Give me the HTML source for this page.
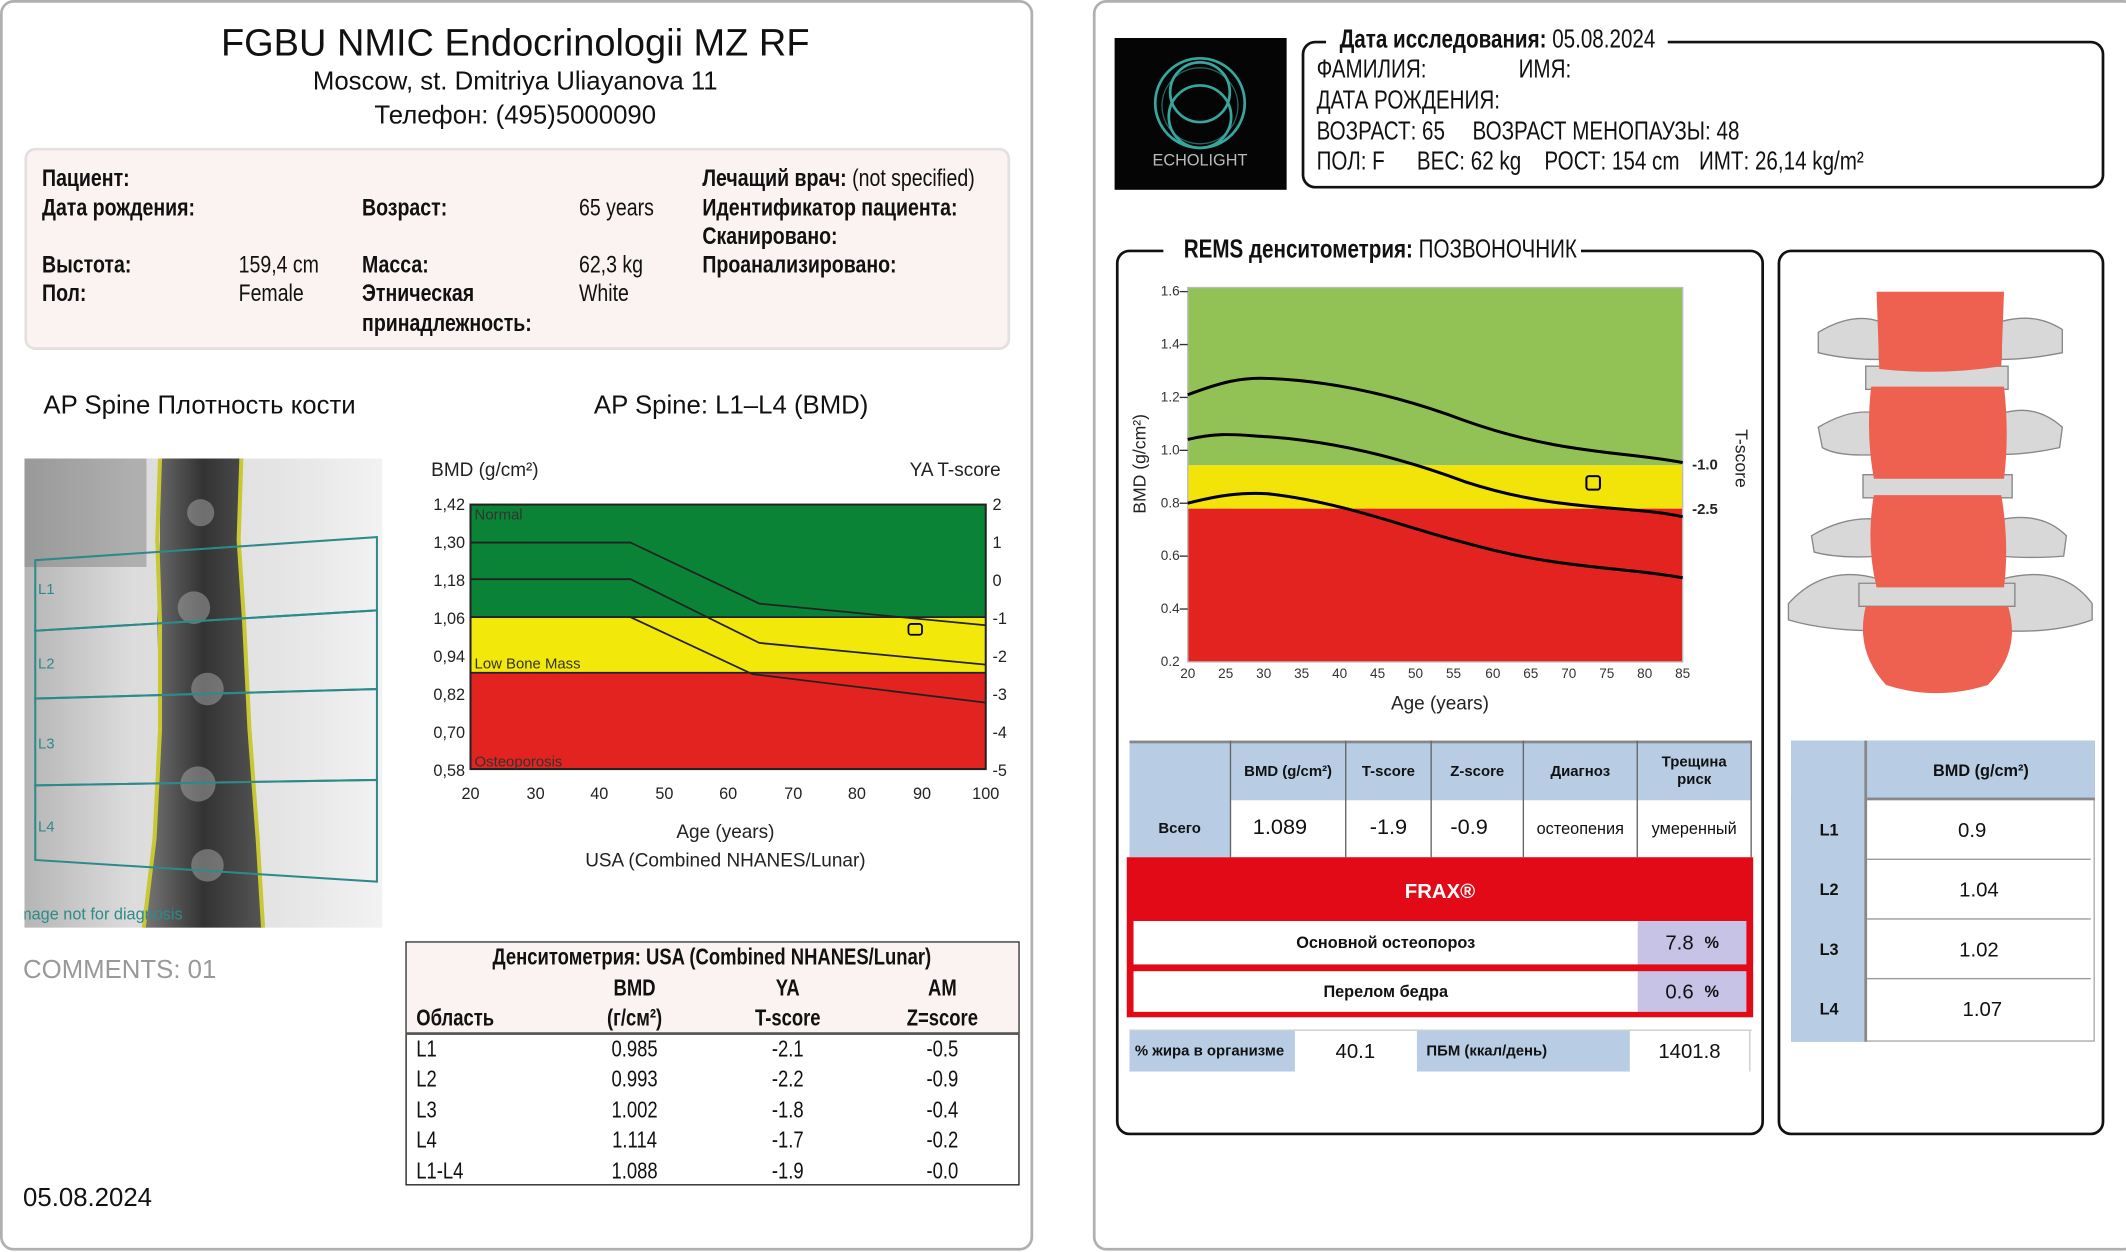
<!DOCTYPE html>
<html><head><meta charset="utf-8">
<style>
*{margin:0;padding:0;box-sizing:border-box}
html,body{width:2126px;height:1252px;overflow:hidden;background:#fff}
#w{position:absolute;left:0;top:0;width:1568px;height:923px;transform:scale(1.3559,1.3564);transform-origin:0 0;font-family:"Liberation Sans",sans-serif;color:#111}
.a{position:absolute;white-space:nowrap;line-height:1}
.b{font-weight:bold}
.panel{position:absolute;border:2px solid #b0b0b0;border-radius:10px}
.box{position:absolute;border:2px solid #111;border-radius:10px}
.c{transform:translateX(-50%)}
.n .a{transform:scaleX(.8);transform-origin:0 0}
.n .a.c{transform:translateX(-50%) scaleX(.8);transform-origin:50% 0}
.cell{position:absolute;display:flex;align-items:center;justify-content:center;font-family:"Liberation Sans",sans-serif;font-size:12px}
</style></head><body><div id="w">

<div class="panel" style="left:0;top:0;width:762px;height:922px"></div>
<div class="panel" style="left:806px;top:0;width:770px;height:922px"></div>

<!-- LEFT -->
<div class="a c" style="left:380px;top:18px;font-size:28px">FGBU NMIC Endocrinologii MZ RF</div>
<div class="a c" style="left:380px;top:51px;font-size:19px">Moscow, st. Dmitriya Uliayanova 11</div>
<div class="a c" style="left:380px;top:76px;font-size:19px">Телефон: (495)5000090</div>

<div style="position:absolute;left:18px;top:109px;width:727px;height:149px;background:#fbf3f1;border:2px solid #e4e0df;border-radius:8px"></div>
<div class="n" style="position:absolute;left:0;top:0;font-size:18px">
<div class="a b" style="left:31px;top:122px">Пациент:</div>
<div class="a b" style="left:31px;top:144px">Дата рождения:</div>
<div class="a b" style="left:31px;top:186px">Выстота:</div>
<div class="a b" style="left:31px;top:207px">Пол:</div>
<div class="a" style="left:176px;top:186px">159,4 cm</div>
<div class="a" style="left:176px;top:207px">Female</div>
<div class="a b" style="left:267px;top:144px">Возраст:</div>
<div class="a b" style="left:267px;top:186px">Масса:</div>
<div class="a b" style="left:267px;top:207px">Этническая</div>
<div class="a b" style="left:267px;top:229px">принадлежность:</div>
<div class="a" style="left:427px;top:144px">65 years</div>
<div class="a" style="left:427px;top:186px">62,3 kg</div>
<div class="a" style="left:427px;top:207px">White</div>
<div class="a" style="left:518px;top:122px"><b>Лечащий врач:</b> (not specified)</div>
<div class="a b" style="left:518px;top:144px">Идентификатор пациента:</div>
<div class="a b" style="left:518px;top:165px">Сканировано:</div>
<div class="a b" style="left:518px;top:186px">Проанализировано:</div>
</div>

<div class="a" style="left:32px;top:290px;font-size:19px">AP Spine Плотность кости</div>
<div class="a" style="left:438px;top:290px;font-size:19px">AP Spine: L1–L4 (BMD)</div>

<!-- spine image -->
<svg style="position:absolute;left:18px;top:338px" width="264" height="346" viewBox="0 0 264 346">
<defs>
<linearGradient id="bg" x1="0" x2="1" y1="0" y2="0">
<stop offset="0" stop-color="#b5b5b5"/><stop offset="0.3" stop-color="#dcdcdc"/><stop offset="0.7" stop-color="#e4e4e4"/><stop offset="1" stop-color="#f2f2f2"/></linearGradient>
<linearGradient id="sp" x1="0" x2="1"><stop offset="0" stop-color="#777"/><stop offset="0.5" stop-color="#333"/><stop offset="1" stop-color="#555"/></linearGradient>
</defs>
<rect width="264" height="346" fill="url(#bg)"/>
<rect x="0" y="0" width="90" height="80" fill="#777" opacity="0.45"/>
<path d="M100 0 L160 0 L158 60 L162 120 L166 200 L172 280 L176 346 L88 346 L96 280 L100 200 L98 120 L100 60 Z" fill="url(#sp)"/>
<g fill="#aaa" opacity="0.5"><circle cx="130" cy="40" r="10"/><circle cx="125" cy="110" r="12"/><circle cx="135" cy="170" r="12"/><circle cx="128" cy="240" r="13"/><circle cx="135" cy="300" r="12"/></g>
<path d="M100 0 L98 60 L100 120 L100 200 L96 280 L88 346 M160 0 L158 60 L162 120 L166 200 L172 280 L176 346" fill="none" stroke="#c8c832" stroke-width="3"/>
<g fill="none" stroke="#2e8a8a" stroke-width="1.5">
<path d="M8 75 L260 58 L260 112 L8 127 Z"/>
<path d="M8 127 L260 112 L260 170 L8 177 Z"/>
<path d="M8 177 L260 170 L260 237 L8 241 Z"/>
<path d="M8 241 L260 237 L260 312 L8 296 Z"/>
</g>
<g fill="#2e8a8a" font-size="11" font-family="Liberation Sans"><text x="10" y="100">L1</text><text x="10" y="155">L2</text><text x="10" y="214">L3</text><text x="10" y="275">L4</text><text x="-8" y="340" font-size="12">Image not for diagnosis</text></g>
</svg>

<!-- left chart -->
<svg style="position:absolute;left:300px;top:330px" width="460" height="320" viewBox="300 330 460 320" font-family="Liberation Sans, sans-serif">
<rect x="347" y="372" width="380" height="83" fill="#0a8337"/>
<rect x="347" y="455" width="380" height="41" fill="#f2e80a"/>
<rect x="347" y="496" width="380" height="71" fill="#e3231f"/>
<rect x="347" y="372" width="380" height="195" fill="none" stroke="#222" stroke-width="1.5"/>
<g stroke="#222" stroke-width="1.3" fill="none">
<line x1="347" y1="455" x2="727" y2="455"/><line x1="347" y1="496" x2="727" y2="496"/>
<polyline points="347,400 465,400 560,445 727,461"/>
<polyline points="347,427 465,427 560,474 727,490"/>
<polyline points="347,455 465,455 555,497 727,518"/>
<rect x="670" y="460" width="10" height="8" rx="2" fill="none" stroke="#000"/>
</g>
<g font-size="12" fill="#222" text-anchor="end">
<text x="343" y="376">1,42</text><text x="343" y="404">1,30</text><text x="343" y="432">1,18</text><text x="343" y="460">1,06</text><text x="343" y="488">0,94</text><text x="343" y="516">0,82</text><text x="343" y="544">0,70</text><text x="343" y="572">0,58</text></g>
<g font-size="12" fill="#222"><text x="732" y="376">2</text><text x="732" y="404">1</text><text x="732" y="432">0</text><text x="732" y="460">-1</text><text x="732" y="488">-2</text><text x="732" y="516">-3</text><text x="732" y="544">-4</text><text x="732" y="572">-5</text></g>
<g font-size="12" fill="#222" text-anchor="middle"><text x="347" y="589">20</text><text x="395" y="589">30</text><text x="442" y="589">40</text><text x="490" y="589">50</text><text x="537" y="589">60</text><text x="585" y="589">70</text><text x="632" y="589">80</text><text x="680" y="589">90</text><text x="727" y="589">100</text>
<text x="535" y="618" font-size="14">Age (years)</text><text x="535" y="639" font-size="14">USA (Combined NHANES/Lunar)</text></g>
<g font-size="11" fill="#333"><text x="350" y="383">Normal</text><text x="350" y="493">Low Bone Mass</text><text x="350" y="565">Osteoporosis</text></g>
<text x="318" y="351" font-size="14" fill="#222">BMD (g/cm²)</text>
<text x="738" y="351" font-size="14" fill="#222" text-anchor="end">YA T-score</text>
</svg>

<div class="a" style="left:17px;top:706px;font-size:19px;color:#999">COMMENTS: 01</div>
<div class="a" style="left:17px;top:874px;font-size:19px">05.08.2024</div>

<!-- left table -->
<div style="position:absolute;left:299px;top:694px;width:453px;height:180px;border:1.5px solid #222"></div>
<div style="position:absolute;left:300px;top:695px;width:451px;height:68px;background:#fbf3f1;border-bottom:2px solid #555"></div>
<div class="n" style="position:absolute;left:0;top:0;font-size:17px">
<div class="a b c" style="left:525px;top:697px">Денситометрия: USA (Combined NHANES/Lunar)</div>
<div class="a b c" style="left:468px;top:720px">BMD</div><div class="a b c" style="left:581px;top:720px">YA</div><div class="a b c" style="left:695px;top:720px">AM</div>
<div class="a b" style="left:307px;top:742px">Область</div>
<div class="a b c" style="left:468px;top:742px">(г/см²)</div><div class="a b c" style="left:581px;top:742px">T-score</div><div class="a b c" style="left:695px;top:742px">Z=score</div>
<div class="a" style="left:307px;top:765px">L1</div><div class="a c" style="left:468px;top:765px">0.985</div><div class="a c" style="left:581px;top:765px">-2.1</div><div class="a c" style="left:695px;top:765px">-0.5</div>
<div class="a" style="left:307px;top:787px">L2</div><div class="a c" style="left:468px;top:787px">0.993</div><div class="a c" style="left:581px;top:787px">-2.2</div><div class="a c" style="left:695px;top:787px">-0.9</div>
<div class="a" style="left:307px;top:810px">L3</div><div class="a c" style="left:468px;top:810px">1.002</div><div class="a c" style="left:581px;top:810px">-1.8</div><div class="a c" style="left:695px;top:810px">-0.4</div>
<div class="a" style="left:307px;top:832px">L4</div><div class="a c" style="left:468px;top:832px">1.114</div><div class="a c" style="left:581px;top:832px">-1.7</div><div class="a c" style="left:695px;top:832px">-0.2</div>
<div class="a" style="left:307px;top:855px">L1-L4</div><div class="a c" style="left:468px;top:855px">1.088</div><div class="a c" style="left:581px;top:855px">-1.9</div><div class="a c" style="left:695px;top:855px">-0.0</div>
</div>

<!-- RIGHT -->
<svg style="position:absolute;left:822px;top:28px" width="127" height="112" viewBox="0 0 127 112">
<rect width="127" height="112" fill="#050505"/>
<g fill="none" stroke="#3fb7b0" stroke-width="2" opacity="0.9">
<circle cx="63" cy="48" r="33"/><circle cx="63" cy="58" r="23"/><circle cx="63" cy="40" r="22"/><circle cx="63" cy="50" r="28" stroke-width="1" opacity="0.6"/>
</g>
<text x="63" y="94" fill="#bbb" font-size="12" text-anchor="middle" font-family="Liberation Sans">ECHOLIGHT</text>
</svg>

<div class="box" style="left:960px;top:30px;width:592px;height:109px"></div>
<div style="position:absolute;left:978px;top:20px;width:252px;height:16px;background:#fff"></div>
<div class="n" style="position:absolute;left:0;top:0;font-size:19px">
<div class="a" style="left:988px;top:20px"><b>Дата исследования:</b> 05.08.2024</div>
<div class="a" style="left:971px;top:42px">ФАМИЛИЯ:</div><div class="a" style="left:1120px;top:42px">ИМЯ:</div>
<div class="a" style="left:971px;top:65px">ДАТА РОЖДЕНИЯ:</div>
<div class="a" style="left:971px;top:88px">ВОЗРАСТ: 65</div><div class="a" style="left:1086px;top:88px">ВОЗРАСТ МЕНОПАУЗЫ: 48</div>
<div class="a" style="left:971px;top:110px">ПОЛ: F</div><div class="a" style="left:1045px;top:110px">ВЕС: 62 kg</div><div class="a" style="left:1139px;top:110px">РОСТ: 154 cm</div><div class="a" style="left:1253px;top:110px">ИМТ: 26,14 kg/m²</div>
</div>

<div class="box" style="left:823px;top:184px;width:478px;height:653px"></div>
<div style="position:absolute;left:858px;top:175px;width:308px;height:18px;background:#fff"></div>
<div class="n" style="position:absolute;left:0;top:0;font-size:19px"><div class="a" style="left:873px;top:175px"><b>REMS денситометрия:</b> ПОЗВОНОЧНИК</div></div>
<div class="box" style="left:1311px;top:184px;width:241px;height:653px"></div>

<!-- right chart -->
<svg style="position:absolute;left:823px;top:200px" width="478" height="335" viewBox="823 200 478 335" font-family="Liberation Sans, sans-serif">
<rect x="876" y="212" width="365" height="131" fill="#92c255"/>
<rect x="876" y="343" width="365" height="32" fill="#f2e308"/>
<rect x="876" y="375" width="365" height="113" fill="#e3231f"/>
<rect x="876" y="212" width="365" height="276" fill="none" stroke="#bbb" stroke-width="1"/>
<g stroke="#000" stroke-width="2.2" fill="none">
<path d="M876,291 C900,282 915,278 935,279 C990,281 1040,295 1080,310 C1150,335 1200,333 1241,341"/>
<path d="M876,324 C900,318 915,321 935,322 C990,326 1040,340 1080,355 C1150,378 1200,372 1241,381"/>
<path d="M876,371 C900,365 915,363 935,364 C990,370 1040,390 1080,400 C1150,420 1200,418 1241,426"/>
</g>
<rect x="1170" y="351" width="10" height="10" rx="2" fill="none" stroke="#000" stroke-width="1.5"/>
<g font-size="10" fill="#333" text-anchor="end">
<text x="870" y="218">1.6</text><text x="870" y="257">1.4</text><text x="870" y="296">1.2</text><text x="870" y="335">1.0</text><text x="870" y="374">0.8</text><text x="870" y="413">0.6</text><text x="870" y="452">0.4</text><text x="870" y="491">0.2</text></g>
<g stroke="#333"><line x1="870" y1="215" x2="876" y2="215"/><line x1="870" y1="254" x2="876" y2="254"/><line x1="870" y1="293" x2="876" y2="293"/><line x1="870" y1="332" x2="876" y2="332"/><line x1="870" y1="371" x2="876" y2="371"/><line x1="870" y1="410" x2="876" y2="410"/><line x1="870" y1="449" x2="876" y2="449"/></g>
<g font-size="10" fill="#333" text-anchor="middle">
<text x="876" y="500">20</text><text x="904" y="500">25</text><text x="932" y="500">30</text><text x="960" y="500">35</text><text x="988" y="500">40</text><text x="1016" y="500">45</text><text x="1044" y="500">50</text><text x="1072" y="500">55</text><text x="1101" y="500">60</text><text x="1129" y="500">65</text><text x="1157" y="500">70</text><text x="1185" y="500">75</text><text x="1213" y="500">80</text><text x="1241" y="500">85</text></g>
<text x="1062" y="523" font-size="14" text-anchor="middle" fill="#222">Age (years)</text>
<text transform="translate(845,342) rotate(-90)" font-size="13" text-anchor="middle" fill="#222">BMD (g/cm²)</text>
<text transform="translate(1280,338) rotate(90)" font-size="13" text-anchor="middle" fill="#222">T-score</text>
<text x="1248" y="346" font-size="11" font-weight="bold" fill="#222">-1.0</text>
<text x="1248" y="379" font-size="11" font-weight="bold" fill="#222">-2.5</text>
</svg>

<!-- vertebra -->
<svg style="position:absolute;left:1316px;top:215px" width="230" height="300" viewBox="0 0 230 300">
<g fill="#d8d8d8" stroke="#888" stroke-width="1">
<path d="M25 30 Q50 15 70 22 L70 50 Q45 50 25 45 Z"/><path d="M160 22 Q185 15 205 28 L205 45 Q180 50 160 50 Z"/>
<path d="M25 100 Q50 85 70 90 L70 120 Q40 122 28 115 Z"/><path d="M160 90 Q185 82 205 100 L203 115 Q180 120 160 120 Z"/>
<path d="M20 180 Q45 165 70 168 L70 195 Q40 197 22 192 Z"/><path d="M160 168 Q190 162 208 180 L206 195 Q180 197 160 195 Z"/>
<path d="M3 230 Q30 200 70 212 L68 250 Q30 250 3 242 Z"/><path d="M160 212 Q205 200 227 230 L227 242 Q200 252 160 250 Z"/>
<path d="M60 55 L165 55 L165 72 L60 72 Z"/><path d="M58 135 L168 135 L168 152 L58 152 Z"/><path d="M55 215 L170 215 L170 232 L55 232 Z"/>
</g>
<g fill="#ee6150">
<path d="M68 0 L162 0 L160 55 Q115 62 70 57 Z"/>
<path d="M64 70 L162 70 Q166 105 162 138 L66 138 Q60 105 64 70 Z"/>
<path d="M66 150 L160 150 Q166 185 162 218 L68 218 Q60 185 66 150 Z"/>
<path d="M60 232 L165 232 Q175 265 150 290 Q112 302 75 290 Q52 265 60 232 Z"/>
</g>
</svg>

<!-- REMS table -->
<div style="position:absolute;left:833px;top:546px;width:459px;height:86px;background:#b8cce4"></div>
<div style="position:absolute;left:908px;top:590px;width:384px;height:42px;background:#fff"></div>
<div style="position:absolute;left:833px;top:546px;width:459px;height:2px;background:#888"></div>
<div style="position:absolute;left:907px;top:546px;width:1px;height:86px;background:#666"></div>
<div style="position:absolute;left:992px;top:546px;width:1px;height:86px;background:#666"></div>
<div style="position:absolute;left:1055px;top:546px;width:1px;height:86px;background:#666"></div>
<div style="position:absolute;left:1123px;top:546px;width:1px;height:86px;background:#666"></div>
<div style="position:absolute;left:1207px;top:546px;width:1px;height:86px;background:#666"></div>
<div style="position:absolute;left:1291px;top:546px;width:1px;height:86px;background:#666"></div>
<div class="cell b" style="left:908px;top:548px;width:84px;height:42px;font-size:11px">BMD (g/cm²)</div>
<div class="cell b" style="left:993px;top:548px;width:62px;height:42px;font-size:11px">T-score</div>
<div class="cell b" style="left:1056px;top:548px;width:67px;height:42px;font-size:11px">Z-score</div>
<div class="cell b" style="left:1124px;top:548px;width:83px;height:42px;font-size:11px">Диагноз</div>
<div class="cell b" style="left:1208px;top:548px;width:83px;height:42px;font-size:11px;line-height:1.2;text-align:center">Трещина<br>риск</div>
<div class="cell b" style="left:833px;top:590px;width:74px;height:42px;font-size:11px">Всего</div>
<div class="cell" style="left:908px;top:590px;width:72px;height:42px;font-size:16px">1.089</div>
<div class="cell" style="left:993px;top:590px;width:62px;height:42px;font-size:16px">-1.9</div>
<div class="cell" style="left:1056px;top:590px;width:55px;height:42px;font-size:16px">-0.9</div>
<div class="cell" style="left:1124px;top:590px;width:83px;height:42px;font-size:12px">остеопения</div>
<div class="cell" style="left:1208px;top:590px;width:83px;height:42px;font-size:12px">умеренный</div>

<div style="position:absolute;left:831px;top:632px;width:462px;height:118px;background:#e20a17"></div>
<div class="cell b" style="left:831px;top:644px;width:462px;height:26px;color:#fff;font-size:15px">FRAX®</div>
<div style="position:absolute;left:836px;top:679px;width:372px;height:32px;background:#fff"></div>
<div style="position:absolute;left:1208px;top:679px;width:80px;height:32px;background:#c6c3e6"></div>
<div class="cell b" style="left:836px;top:679px;width:372px;height:32px;font-size:12px">Основной остеопороз</div>
<div class="cell" style="left:1208px;top:679px;width:80px;height:32px;font-size:15px">7.8 <b style="font-size:12px;margin-left:8px">%</b></div>
<div style="position:absolute;left:836px;top:716px;width:372px;height:30px;background:#fff"></div>
<div style="position:absolute;left:1208px;top:716px;width:80px;height:30px;background:#c6c3e6"></div>
<div class="cell b" style="left:836px;top:716px;width:372px;height:30px;font-size:12px">Перелом бедра</div>
<div class="cell" style="left:1208px;top:716px;width:80px;height:30px;font-size:15px">0.6 <b style="font-size:12px;margin-left:8px">%</b></div>

<div style="position:absolute;left:833px;top:759px;width:459px;height:1px;background:#ccc"></div>
<div class="cell b" style="left:833px;top:760px;width:122px;height:30px;background:#b8cce4;font-size:11px;justify-content:flex-start;padding-left:4px">% жира в организме</div>
<div class="cell" style="left:955px;top:760px;width:90px;height:30px;font-size:15px;justify-content:flex-start;padding-left:30px">40.1</div>
<div class="cell b" style="left:1045px;top:760px;width:157px;height:30px;background:#b8cce4;font-size:11px;justify-content:flex-start;padding-left:7px">ПБМ (ккал/день)</div>
<div class="cell" style="left:1202px;top:760px;width:88px;height:30px;font-size:15px">1401.8</div>
<div style="position:absolute;left:1290px;top:760px;width:1px;height:30px;background:#ccc"></div>

<!-- right BMD table -->
<div style="position:absolute;left:1321px;top:546px;width:224px;height:222px;background:#fff;border:1px solid #aaa"></div>
<div style="position:absolute;left:1321px;top:546px;width:224px;height:44px;background:#b8cce4;border-bottom:2px solid #888"></div>
<div style="position:absolute;left:1321px;top:546px;width:56px;height:222px;background:#b8cce4;border-right:2px solid #888"></div>
<div style="position:absolute;left:1377px;top:633px;width:165px;height:1px;background:#999"></div>
<div style="position:absolute;left:1377px;top:677px;width:165px;height:1px;background:#999"></div>
<div style="position:absolute;left:1377px;top:721px;width:165px;height:1px;background:#999"></div>
<div class="cell b" style="left:1377px;top:546px;width:168px;height:44px;font-size:12px">BMD (g/cm²)</div>
<div class="cell b" style="left:1321px;top:590px;width:56px;height:44px;font-size:12px">L1</div>
<div class="cell b" style="left:1321px;top:634px;width:56px;height:44px;font-size:12px">L2</div>
<div class="cell b" style="left:1321px;top:678px;width:56px;height:44px;font-size:12px">L3</div>
<div class="cell b" style="left:1321px;top:722px;width:56px;height:44px;font-size:12px">L4</div>
<div class="cell" style="left:1377px;top:590px;width:155px;height:44px;font-size:15px">0.9</div>
<div class="cell" style="left:1377px;top:634px;width:165px;height:44px;font-size:15px">1.04</div>
<div class="cell" style="left:1377px;top:678px;width:165px;height:44px;font-size:15px">1.02</div>
<div class="cell" style="left:1377px;top:722px;width:170px;height:44px;font-size:15px">1.07</div>

</div></body></html>
